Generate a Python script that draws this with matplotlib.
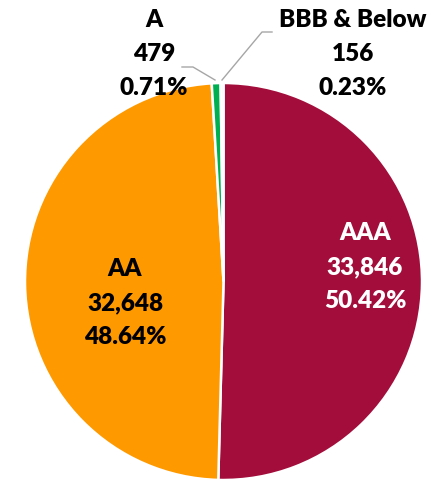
import matplotlib.pyplot as plt

# data
ratings = ['AAA', 'AA', 'A', 'BBB & Below']
amounts = [33846, 32648, 479, 156]
pct_labels = ['50.42%', '48.64%', '0.71%', '0.23%']
colors = ['#A20D3B', '#FF9900', '#00B050', '#F2F2F2']

plt.rcParams['font.family'] = ['Lato', 'DejaVu Sans']

W, H = 436, 484
fig = plt.figure(figsize=(W / 100, H / 100), dpi=100)
ax = fig.add_axes([0, 0, 1, 1])

cx, cy, r = 223.5, H - 281.5, 198.5
ax.pie(amounts, colors=colors, startangle=90, counterclock=False,
       center=(cx, cy), radius=r, frame=True,
       wedgeprops=dict(edgecolor='white', linewidth=1.8))
ax.set_xlim(0, W)
ax.set_ylim(0, H)
ax.axis('off')

# label placement (pixel coords, y from top)
label_pos = [(365, 233, 'white'), (125, 269, 'black'),
             (154, 20, 'black'), (353, 20, 'black')]
for name, amt, pct, (x, y, c) in zip(ratings, amounts, pct_labels, label_pos):
    for i, line in enumerate([name, f'{amt:,}', pct]):
        ax.text(x, H - (y + i * 34), line, ha='center', va='center',
                fontsize=17.5, fontweight='heavy', color=c)

# leader lines for the thin slices
ax.plot([182, 193, 215], [H - 67, H - 67, H - 80], color='#A6A6A6', lw=1)
ax.plot([272, 262, 222], [H - 32, H - 32, H - 80], color='#A6A6A6', lw=1)

fig.savefig('out.png', dpi=100)
